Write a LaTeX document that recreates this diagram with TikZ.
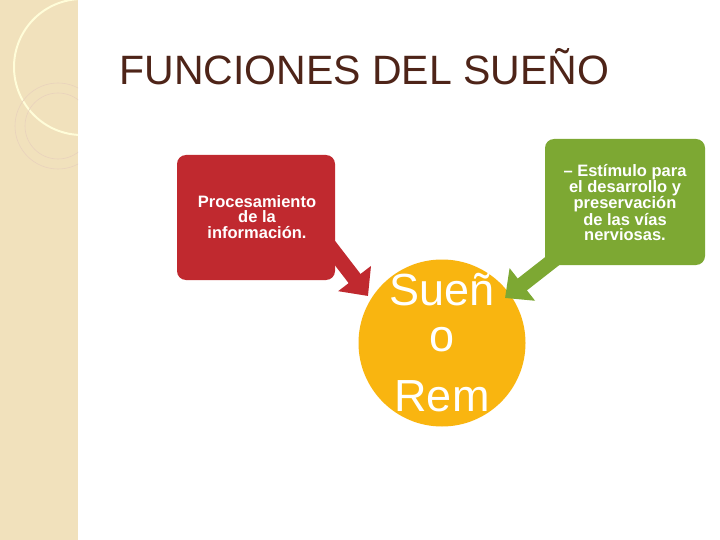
\documentclass[tikz,border=0pt]{standalone}
\usepackage{fontspec}
\setmainfont{Liberation Sans}
\usetikzlibrary{arrows.meta}
\definecolor{strip}{HTML}{F1E1BC}
\definecolor{redb}{HTML}{C0292F}
\definecolor{greenb}{HTML}{7DA833}
\definecolor{yell}{HTML}{F9B510}
\definecolor{titlec}{HTML}{4E2418}
\tikzset{box/.style={rounded corners=9pt,text=white,font=\bfseries\fontsize{16.5}{15.5}\selectfont,align=center,inner sep=0pt},
fat/.style={line width=15pt,-{Triangle[length=22pt,width=40pt]}}}
\begin{document}
\begin{tikzpicture}[x=1pt,y=-1pt]
\useasboundingbox (0,0) rectangle (720,540);
\fill[white] (0,0) rectangle (720,540);
\fill[strip] (0,0) rectangle (78,540);
\begin{scope}
\clip (0,0) rectangle (78,540);
\fill[white,opacity=0.25] (65,0) arc[start angle=0,end angle=-90,radius=65] -- (0,0) -- cycle;
\draw[white!85!yellow,line width=2pt] (82,67) circle[radius=68];
\draw[brown!35,line width=0.6pt] (58,126) circle[radius=43];
\draw[brown!35,line width=0.6pt] (58,126) circle[radius=33];
\end{scope}
\node[text=titlec,anchor=west,font=\fontsize{41}{44}\selectfont] (title) at (116,67) {FUNCIONES DEL SUEÑO};
\fill[redb,rounded corners=9pt] (177,155) rectangle (335,280);
\node[box] (red) at (257,217) {Procesamiento\\de la\\información.};
\fill[greenb,rounded corners=9pt] (545,139) rectangle (705,265);
\node[box] (green) at (625,203) {– Estímulo para\\el desarrollo y\\preservación\\de las vías\\nerviosas.};
\node[circle,fill=yell,minimum size=167pt,inner sep=0pt] (c) at (442,343) {};
\coordinate (rt) at (368,296);
\coordinate (gt) at (505,298);
\draw[redb,fat] (328,244) -- (rt);
\draw[greenb,fat] (560,255) -- (gt);
\node[text=white,font=\fontsize{45}{46}\selectfont,align=center] (t) at (442,343) {Sueñ\\o\\[14pt]Rem};
\end{tikzpicture}
\end{document}
